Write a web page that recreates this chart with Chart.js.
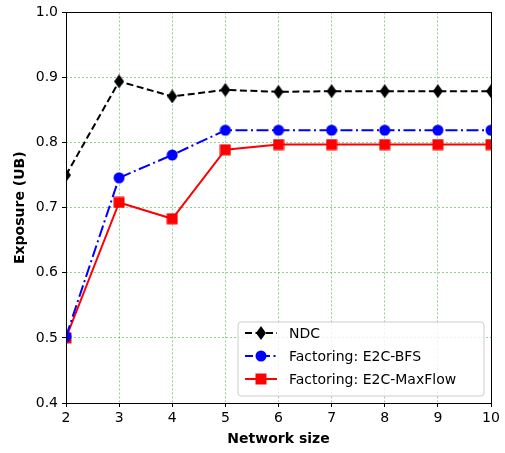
<!DOCTYPE html>
<html>
<head>
<meta charset="utf-8">
<script src="https://cdn.jsdelivr.net/npm/chart.js@4/dist/chart.umd.min.js"></script>
<style>
  html, body { margin: 0; padding: 0; background: #fff; }
  #wrap { width: 505px; height: 453px; }
</style>
</head>
<body>
<div id="wrap"><canvas id="exposureChart" width="505" height="453"></canvas></div>
<script>
const networkSizes = [2, 3, 4, 5, 6, 7, 8, 9, 10];
const ndcValues     = [0.750, 0.894, 0.871, 0.881, 0.878, 0.879, 0.879, 0.879, 0.879];
const bfsValues     = [0.502, 0.746, 0.781, 0.819, 0.819, 0.819, 0.819, 0.819, 0.819];
const maxFlowValues = [0.500, 0.708, 0.683, 0.789, 0.797, 0.797, 0.797, 0.797, 0.797];
const yTicks = [0.4, 0.5, 0.6, 0.7, 0.8, 0.9, 1.0];
const seriesNames = ['NDC', 'Factoring: E2C-BFS', 'Factoring: E2C-MaxFlow'];

const FONT = "'DejaVu Sans', sans-serif";

// marker sprites; `keep` cuts a marker in half for points sitting on the axes edge
function makeMarker(shape, color, w, h, keep) {
    const c = document.createElement('canvas');
    c.width = w; c.height = h;
    const g = c.getContext('2d');
    g.fillStyle = color;
    g.beginPath();
    if (shape === 'diamond') {
        g.moveTo(w / 2, 0);
        g.lineTo(w, h / 2);
        g.lineTo(w / 2, h);
        g.lineTo(0, h / 2);
        g.closePath();
    } else if (shape === 'circle') {
        g.arc(w / 2, h / 2, w / 2 - 0.5, 0, Math.PI * 2);
    } else {
        g.rect(0.5, 0.5, w - 1, h - 1);
    }
    g.fill();
    if (keep === 'right') g.clearRect(0, 0, w / 2, h);
    if (keep === 'left') g.clearRect(w / 2, 0, w / 2, h);
    return c;
}

function markerSet(shape, color, w, h) {
    return {
        full: makeMarker(shape, color, w, h),
        right: makeMarker(shape, color, w, h, 'right'),
        left: makeMarker(shape, color, w, h, 'left')
    };
}

const markers = [
    markerSet('diamond', '#000000', 10, 14),
    markerSet('circle', '#0000ff', 12, 12),
    markerSet('square', '#ff0000', 12, 12)
];

// first and last points sit on the frame, so only their inner half shows
const pickMarker = set => ctx => {
    const i = ctx.dataIndex;
    if (i === 0) return set.right;
    if (i === networkSizes.length - 1) return set.left;
    return set.full;
};

const toPoints = vals => vals.map((v, i) => ({ x: networkSizes[i], y: v }));

// frame, axis titles and in-plot legend
const decorations = {
    id: 'decorations',
    afterDatasetsDraw(chart) {
        const { ctx, chartArea: a } = chart;
        ctx.save();
        ctx.strokeStyle = '#000';
        ctx.lineWidth = 1;
        ctx.setLineDash([]);
        ctx.strokeRect(Math.round(a.left) + 0.5, Math.round(a.top) + 0.5,
            Math.round(a.right - a.left), Math.round(a.bottom - a.top));

        ctx.fillStyle = '#000';
        ctx.font = 'bold 14px ' + FONT;
        ctx.textAlign = 'center';
        ctx.textBaseline = 'middle';
        ctx.fillText('Network size', (a.left + a.right) / 2, 439);
        ctx.translate(20, (a.top + a.bottom) / 2);
        ctx.rotate(-Math.PI / 2);
        ctx.fillText('Exposure (UB)', 0, 0);
        ctx.restore();

        // legend box
        ctx.save();
        const bx = 238, by = 322, bw = 246, bh = 74, r = 3;
        ctx.beginPath();
        ctx.moveTo(bx + r, by);
        ctx.arcTo(bx + bw, by, bx + bw, by + bh, r);
        ctx.arcTo(bx + bw, by + bh, bx, by + bh, r);
        ctx.arcTo(bx, by + bh, bx, by, r);
        ctx.arcTo(bx, by, bx + bw, by, r);
        ctx.closePath();
        ctx.fillStyle = 'rgba(255,255,255,0.8)';
        ctx.fill();
        ctx.strokeStyle = '#cccccc';
        ctx.lineWidth = 1;
        ctx.stroke();

        const rows = [333, 356, 379];
        chart.data.datasets.forEach((ds, i) => {
            const y = rows[i];
            ctx.strokeStyle = ds.borderColor;
            ctx.lineWidth = ds.borderWidth;
            ctx.setLineDash(ds.legendDash);
            ctx.beginPath();
            ctx.moveTo(245, y);
            ctx.lineTo(277, y);
            ctx.stroke();
            ctx.setLineDash([]);
            const m = markers[i].full;
            ctx.drawImage(m, 261 - m.width / 2, y - m.height / 2);
            ctx.fillStyle = '#000';
            ctx.font = '14px ' + FONT;
            ctx.textAlign = 'left';
            ctx.textBaseline = 'middle';
            ctx.fillText(ds.label, 289, y + 1);
        });
        ctx.restore();
    }
};

const gridOpts = {
    color: 'rgba(0,150,0,0.55)',
    lineWidth: 0.8,
    drawTicks: true,
    tickLength: 4,
    tickColor: '#000',
    tickWidth: 1,
    tickBorderDash: []
};
// border.dash sets the dash of the grid lines; the frame is drawn by the plugin
const borderOpts = { display: false, dash: [2, 2] };

new Chart(document.getElementById('exposureChart'), {
    type: 'line',
    data: {
        datasets: [
            {
                label: seriesNames[0],
                data: toPoints(ndcValues),
                borderColor: '#000',
                backgroundColor: '#000',
                borderWidth: 2,
                borderDash: [7, 3.5],
                legendDash: [7, 3.5],
                pointStyle: pickMarker(markers[0]),
                pointRadius: 6,
                pointHoverRadius: 6,
                tension: 0
            },
            {
                label: seriesNames[1],
                data: toPoints(bfsValues),
                borderColor: '#0000ff',
                backgroundColor: '#0000ff',
                borderWidth: 2,
                borderDash: [12, 3.5, 2, 3.5],
                legendDash: [8, 3.5, 2, 3.5],
                pointStyle: pickMarker(markers[1]),
                pointRadius: 6,
                pointHoverRadius: 6,
                tension: 0
            },
            {
                label: seriesNames[2],
                data: toPoints(maxFlowValues),
                borderColor: '#ff0000',
                backgroundColor: '#ff0000',
                borderWidth: 2,
                borderDash: [],
                legendDash: [],
                pointStyle: pickMarker(markers[2]),
                pointRadius: 6,
                pointHoverRadius: 6,
                tension: 0
            }
        ]
    },
    options: {
        responsive: false,
        animation: false,
        events: [],
        layout: { padding: { top: 10, right: 14, left: 0, bottom: 0 } },
        plugins: {
            legend: { display: false },
            tooltip: { enabled: false }
        },
        scales: {
            x: {
                type: 'linear',
                min: 2,
                max: 10,
                ticks: {
                    stepSize: 1,
                    color: '#000',
                    padding: 3,
                    font: { family: FONT, size: 14 }
                },
                grid: { ...gridOpts },
                border: { ...borderOpts },
                afterFit(scale) { scale.height = 50; }
            },
            y: {
                type: 'linear',
                min: 0.4,
                max: 1.0,
                afterBuildTicks(scale) { scale.ticks = yTicks.map(v => ({ value: v })); },
                ticks: {
                    color: '#000',
                    padding: 4,
                    font: { family: FONT, size: 14 },
                    callback: v => v.toFixed(1)
                },
                grid: { ...gridOpts },
                border: { ...borderOpts },
                afterFit(scale) { scale.width = 66; }
            }
        }
    },
    plugins: [decorations]
});
</script>
</body>
</html>
